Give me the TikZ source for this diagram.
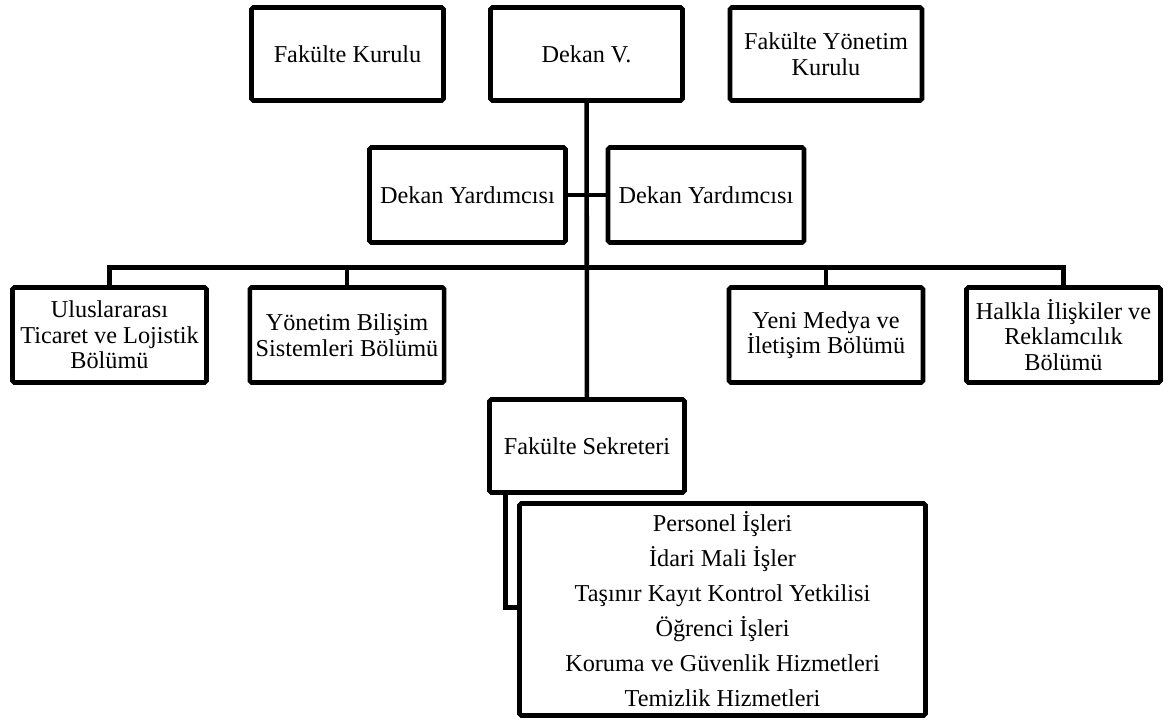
\documentclass[tikz,border=0pt]{standalone}
\usepackage{fontspec}
\setmainfont{Liberation Serif}
\usetikzlibrary{positioning, calc}
\tikzset{
  kutu/.style={rectangle, rounded corners=1pt, minimum width=3.84cm, minimum height=1.86cm, text centered, align=center, draw=black, line width=2.6pt, fill=white, font=\fontsize{13.8}{14.5}\selectfont},
  yardimci/.style={kutu, minimum width=3.92cm, minimum height=1.9cm},
  bolum/.style={kutu, minimum width=3.88cm, minimum height=1.9cm},
  liste/.style={kutu, minimum width=8.12cm, minimum height=4.24cm, font=\fontsize{13.8}{19.9}\selectfont},
  cizgi/.style={line width=2.6pt}
}
\begin{document}
\begin{tikzpicture}[node distance=4.78cm]
                \useasboundingbox (0,0) rectangle (23.36,-14.44);
                \node (dekan) [kutu] at (11.73,-1.08) {Dekan V.};
                \node (kurul) [kutu, left of=dekan] {Fakülte Kurulu};
                \node (yonetim) [kutu, right of=dekan, xshift=0.01cm] {Fakülte Yönetim\\Kurulu};
                \node (yrd1) [yardimci, below of=dekan, xshift=-2.38cm, yshift=1.96cm] {Dekan Yardımcısı};
                \node (yrd2) [yardimci, below of=dekan, xshift=2.39cm, yshift=1.96cm] {Dekan Yardımcısı};

                % bölümler
                \node (bolum1) [bolum, below of=dekan, xshift=-9.54cm, yshift=-0.84cm] {Uluslararası\\Ticaret ve Lojistik\\Bölümü};
                \node (bolum2) [bolum, below of=dekan, xshift=-4.79cm, yshift=-0.84cm] {Yönetim Bilişim\\Sistemleri Bölümü};
                \node (bolum3) [bolum, below of=dekan, xshift=4.79cm, yshift=-0.84cm] {Yeni Medya ve\\İletişim Bölümü};
                \node (bolum4) [bolum, below of=dekan, xshift=9.54cm, yshift=-0.84cm] {Halkla İlişkiler ve\\Reklamcılık\\Bölümü};

                \node (sekreter) [kutu, minimum width=3.9cm, below of=dekan, xshift=0.01cm, yshift=-3.06cm] {Fakülte Sekreteri};
                \node (liste) [liste, below of=sekreter, xshift=2.71cm, yshift=1.51cm] {Personel İşleri\\İdari Mali İşler\\Taşınır Kayıt Kontrol Yetkilisi\\Öğrenci İşleri\\Koruma ve Güvenlik Hizmetleri\\Temizlik Hizmetleri};

                \coordinate (bar) at ([yshift=-3.29cm]dekan.south);

                \draw [cizgi] (dekan) -- (sekreter);
                \draw [cizgi] (yrd1) -- (yrd2);
                \draw [cizgi] (bolum1.north) |- (bar) -| (bolum4.north);
                \draw [cizgi] (bolum2.north) -- (bolum2.north |- bar);
                \draw [cizgi] (bolum3.north) -- (bolum3.north |- bar);

                % sekreterin altındaki çift çizgi
                \draw [cizgi] ([xshift=0.37cm]sekreter.south west) |- ([yshift=-2.13cm]liste.north west);
            \end{tikzpicture}
\end{document}
